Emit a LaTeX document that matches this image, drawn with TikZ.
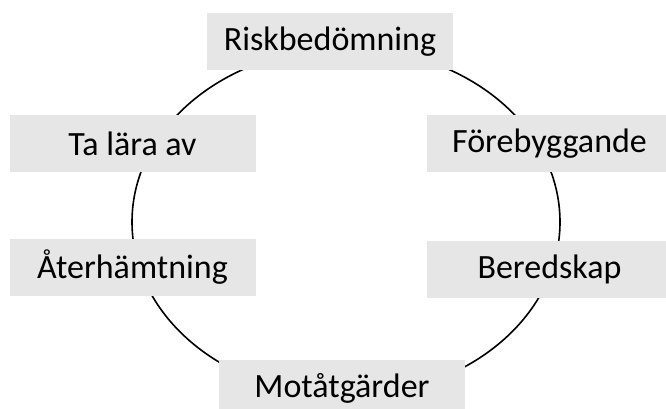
\documentclass[tikz,border=0pt]{standalone}
\usepackage{fontspec}
\setmainfont{Carlito}
\definecolor{stagegray}{RGB}{230,230,230}
\begin{document}
\begin{tikzpicture}[
    x=1pt, y=-1pt,
    every node/.style={font=\fontsize{34}{40}\selectfont},
    stage/.style={
        fill=stagegray, inner sep=0pt,
        minimum width=246pt, minimum height=57pt,
        align=center
    }
]

% Picture frame (px of the reference)
\useasboundingbox (0,0) rectangle (666,408);
\clip (0,0) rectangle (666,408);

% The cycle behind the stages
\coordinate (cycle) at (346,222);
\draw[line width=1.6pt] (cycle) ellipse [x radius=214pt, y radius=174pt];

% Stages round the cycle, clockwise from the top
\node[stage] (risk)  at (330,41.5)  {Riskbedömning};
\node[stage] (fore)  at (549.5,143.5) {Förebyggande};
\node[stage] (bered) at (549.5,269.5) {Beredskap};
\node[stage] (mot)   at (342,388.5) {Motåtgärder};
\node[stage] (ater)  at (132.5,267) {Återhämtning};
\node[stage] (lara)  at (132.5,143.5) {Ta lära av};

\end{tikzpicture}
\end{document}
